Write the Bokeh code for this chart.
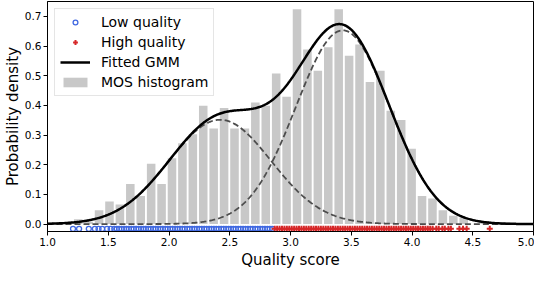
import numpy as np
from bokeh.plotting import figure
from bokeh.models import FixedTicker, NumeralTickFormatter, Legend, LegendItem, Title
from bokeh.embed import file_html
from bokeh.resources import INLINE

# ---------------- data ----------------
x_ticks = [1.0, 1.5, 2.0, 2.5, 3.0, 3.5, 4.0, 4.5, 5.0]
y_ticks = [0.0, 0.1, 0.2, 0.3, 0.4, 0.5, 0.6, 0.7]

# MOS histogram: 40 equal bins between the lowest and highest score
hist_low = 1.21
hist_high = 4.64
hist_density = [0.016, 0.008, 0.047, 0.076, 0.066, 0.135, 0.095, 0.203, 0.135, 0.222,
                0.272, 0.303, 0.399, 0.322, 0.391, 0.322, 0.322, 0.410, 0.399, 0.507,
                0.429, 0.724, 0.588, 0.517, 0.596, 0.724, 0.567, 0.605, 0.479, 0.517,
                0.382, 0.351, 0.254, 0.095, 0.086, 0.047, 0.028, 0.022, 0.0, 0.008]

# Fitted two-component GMM parameters
gmm_means = [2.42, 3.43]
gmm_sds = [0.42, 0.385]
gmm_weights = [0.37, 0.63]

# individual MOS scores (strip below the axis)
low_quality = [1.21, 1.26, 1.34, 1.39, 1.42, 1.45, 1.49, 1.52, 1.55,
               1.57, 1.59, 1.61, 1.63, 1.65, 1.67, 1.69, 1.71, 1.73, 1.75,
               1.77, 1.79, 1.81, 1.83, 1.85, 1.87, 1.89, 1.91, 1.93, 1.95,
               1.97, 1.99, 2.01, 2.03, 2.05, 2.07, 2.09, 2.11, 2.13, 2.15,
               2.17, 2.19, 2.21, 2.23, 2.25, 2.27, 2.29, 2.31, 2.33, 2.35,
               2.37, 2.39, 2.41, 2.43, 2.45, 2.47, 2.49, 2.51, 2.53, 2.55,
               2.57, 2.59, 2.61, 2.63, 2.65, 2.67, 2.69, 2.71, 2.73, 2.75,
               2.77, 2.79, 2.81, 2.83, 2.85]
high_quality = [2.87, 2.89, 2.91, 2.93, 2.95, 2.97, 2.99, 3.01, 3.03, 3.05,
                3.07, 3.09, 3.11, 3.13, 3.15, 3.17, 3.19, 3.21, 3.23, 3.25,
                3.27, 3.29, 3.31, 3.33, 3.35, 3.37, 3.39, 3.41, 3.43, 3.45,
                3.47, 3.49, 3.51, 3.53, 3.55, 3.57, 3.59, 3.61, 3.63, 3.65,
                3.67, 3.69, 3.71, 3.73, 3.75, 3.77, 3.79, 3.81, 3.83, 3.85,
                3.87, 3.89, 3.91, 3.93, 3.95, 3.97, 3.99, 4.01, 4.03, 4.05,
                4.07, 4.09, 4.11, 4.13, 4.15, 4.17, 4.20, 4.22, 4.25, 4.27,
                4.30, 4.32, 4.39, 4.42, 4.45, 4.64]

x_title = "Quality score"
y_title = "Probability density"

# ---------------- styling ----------------
FONT = "DejaVu Sans"
strip_y = -0.016

p = figure(width=534, height=268, x_range=(1.0, 5.0), y_range=(-0.025, 0.75),
           output_backend="svg", toolbar_location=None, min_border=0,
           min_border_top=1, min_border_right=1)
p.grid.visible = False
p.outline_line_color = "black"
p.outline_line_width = 1
p.background_fill_color = "white"

p.xaxis.ticker = FixedTicker(ticks=x_ticks)
p.yaxis.ticker = FixedTicker(ticks=y_ticks)
p.xaxis.formatter = NumeralTickFormatter(format="0.0")
p.yaxis.formatter = NumeralTickFormatter(format="0.0")
p.axis.minor_tick_line_color = None
p.axis.major_tick_in = 0
p.axis.major_tick_out = 4
p.axis.axis_line_color = "black"
p.axis.major_tick_line_color = "black"
p.axis.major_label_text_font = FONT
p.axis.major_label_text_font_size = "10.5px"
p.axis.major_label_text_color = "black"
p.axis.major_label_text_line_height = 1.0
p.axis.major_label_standoff = 2
p.yaxis.axis_label = y_title
p.yaxis.axis_label_text_font = FONT
p.yaxis.axis_label_text_font_size = "15px"
p.yaxis.axis_label_text_font_style = "normal"
p.yaxis.axis_label_text_color = "black"
p.yaxis.axis_label_standoff = 0

# x-axis title as a panel under the tick labels
p.add_layout(Title(text=x_title, align="center", text_font=FONT,
                   text_font_size="15px", text_font_style="normal",
                   text_line_height=1.0, text_color="black",
                   standoff=0, offset=0), "below")

# histogram
n_bins = len(hist_density)
bw = (hist_high - hist_low) / n_bins
centers = hist_low + (np.arange(n_bins) + 0.5) * bw
r_hist = p.vbar(x=centers, top=hist_density, bottom=0, width=bw * 0.82,
                fill_color="#c8c8c8", line_color=None)

# strip of scores
r_low = p.scatter(x=low_quality, y=[strip_y] * len(low_quality), marker="circle",
                  size=5, fill_color=None, line_color="#4169e1", line_width=1.3)
r_high = p.scatter(x=high_quality, y=[strip_y] * len(high_quality), marker="cross",
                   size=6, line_color="#d62728", line_width=2)

# GMM curves
xs = np.linspace(1.0, 5.0, 600)
comps = []
for m, s, w in zip(gmm_means, gmm_sds, gmm_weights):
    comps.append(w * np.exp(-0.5 * ((xs - m) / s) ** 2) / (s * np.sqrt(2 * np.pi)))
for c in comps:
    p.line(xs, c, line_color="#4d4d4d", line_width=1.8, line_dash="6 3")
r_gmm = p.line(xs, comps[0] + comps[1], line_color="black", line_width=2.5)

legend = Legend(items=[
    LegendItem(label="Low quality", renderers=[r_low]),
    LegendItem(label="High quality", renderers=[r_high]),
    LegendItem(label="Fitted GMM", renderers=[r_gmm]),
    LegendItem(label="MOS histogram", renderers=[r_hist]),
], location="top_left")
legend.label_text_font = FONT
legend.label_text_font_size = "14px"
legend.label_text_color = "black"
legend.glyph_width = 30
legend.glyph_height = 12
legend.label_height = 14
legend.label_standoff = 11
legend.spacing = 4
legend.padding = 5
legend.margin = 7
legend.border_line_color = "#cccccc"
legend.border_line_width = 1
legend.background_fill_alpha = 0.8
p.add_layout(legend)

open("out.html", "w").write(file_html(p, INLINE))
